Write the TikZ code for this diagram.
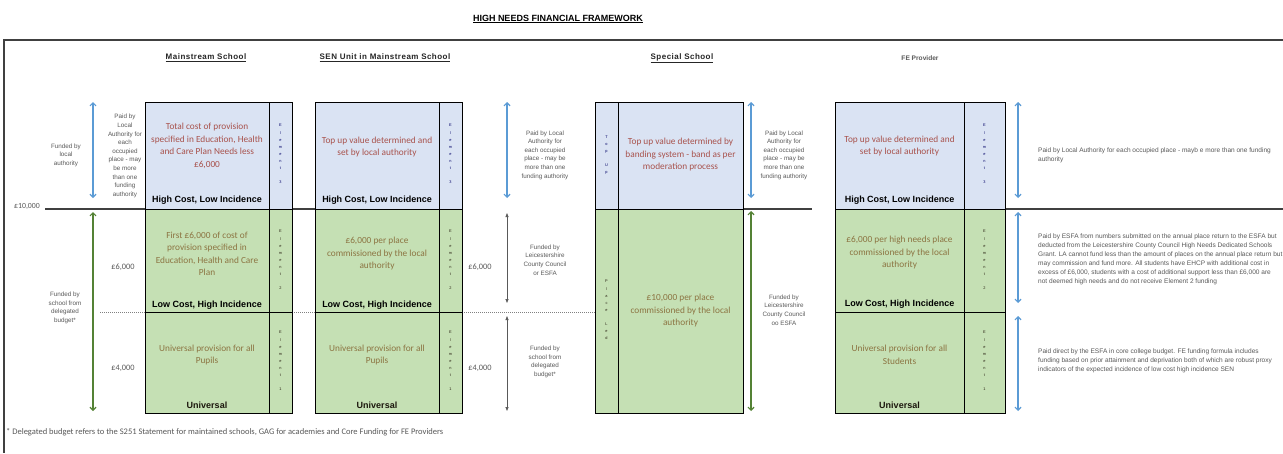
\documentclass[tikz,border=0pt]{standalone}
\usepackage{fontspec}
\setmainfont{Carlito}
\newfontfamily\arial{Liberation Sans}
\newfontfamily\arialsp[LetterSpace=6]{Liberation Sans}
\usetikzlibrary{arrows.meta}
\definecolor{bluefill}{HTML}{DAE3F3}
\definecolor{greenfill}{HTML}{C5E0B4}
\definecolor{bluearrow}{HTML}{5B9BD5}
\definecolor{greenarrow}{HTML}{548235}
\definecolor{graytext}{HTML}{595959}
\definecolor{redtext}{HTML}{A8524C}
\definecolor{olivetext}{HTML}{8C7442}
\definecolor{framegray}{HTML}{404040}
\tikzset{
  bbox/.style={draw=black, line width=1.2pt, fill=bluefill, inner sep=0pt, anchor=north west, minimum width=#1},
  gbox/.style={bbox=#1, fill=greenfill},
  btext/.style={text=redtext, font=\fontsize{9.3}{12.5}\selectfont, align=center, inner sep=0pt},
  gtext/.style={btext, text=olivetext},
  cat/.style={font=\arial\bfseries\fontsize{9}{10}\selectfont, inner sep=0pt},
  stack/.style={font=\arial\fontsize{3.9}{7.1}\selectfont, align=center, inner sep=0pt, text=#1},
  lab/.style={font=\arial\fontsize{6.3}{8.6}\selectfont, align=center, text=graytext, inner sep=0pt},
  money/.style={font=\fontsize{8.3}{9}\selectfont, text=graytext, inner sep=0pt},
  head/.style={font=\arialsp\bfseries\fontsize{8}{9}\selectfont, inner sep=0pt, text=black!85},
  rlab/.style={font=\arial\fontsize{6.55}{9}\selectfont, align=left, text=graytext, inner sep=0pt, anchor=north west},
  barrow/.style={bluearrow, line width=1.2pt, {Straight Barb[length=3pt,width=6pt]}-{Straight Barb[length=3pt,width=6pt]}},
  garrow/.style={barrow, draw=greenarrow},
  grarrow/.style={draw=graytext, line width=0.7pt, {Triangle[length=4pt,width=3pt]}-{Triangle[length=4pt,width=3pt]}},
  level/.style={draw=framegray, line width=1.3pt},
  dotline/.style={draw=gray, line width=0.6pt, dash pattern=on 1pt off 1pt},
}
\begin{document}
\begin{tikzpicture}[x=1pt,y=-1pt]
\useasboundingbox[fill=white] (0,0) rectangle (1283,453);
% frame
\coordinate (ftl) at (4,40);
\coordinate (ftr) at (1283,40);
\coordinate (fbl) at (4,453);
\draw[draw=framegray, line width=1.3pt] (ftr) -- (ftl) -- (fbl);
% title
\node[font=\arial\bfseries\fontsize{9}{10}\selectfont, inner sep=0pt] (title) at (558,19) {\underline{HIGH NEEDS FINANCIAL FRAMEWORK}};
% headers
\node[head] (h1) at (206,58) {\underline{Mainstream School}};
\node[head] (h2) at (385,58) {\underline{SEN Unit in Mainstream School}};
\node[head] (h3) at (682,58) {\underline{Special School}};
\node[head, font=\arial\bfseries\fontsize{6.6}{8}\selectfont, text=graytext] (h4) at (920,58) {FE Provider};
% dotted line
\coordinate (d1) at (100,312);
\coordinate (d2) at (595,312);
\draw[dotline] (d1) -- (d2);
% £10,000 level lines
\coordinate (l1a) at (45,209); \coordinate (l1b) at (462,209);
\coordinate (l2a) at (743,209); \coordinate (l2b) at (812,209);
\coordinate (l3a) at (1005,209); \coordinate (l3b) at (1283,209);
\draw[level] (l1a) -- (l1b);
\draw[level] (l2a) -- (l2b);
\draw[level] (l3a) -- (l3b);
\node[money, font=\fontsize{7.8}{9}\selectfont] (p10) at (27,206) {£10,000};

% ===== Mainstream
\node[bbox=124pt, minimum height=107pt] (ms3) at (145,102) {};
\node[bbox=23pt, minimum height=107pt] (ms3e) at (269,102) {};
\node[gbox=124pt, minimum height=103pt] (ms2) at (145,209) {};
\node[gbox=23pt, minimum height=103pt] (ms2e) at (269,209) {};
\node[gbox=124pt, minimum height=101pt] (ms1) at (145,312) {};
\node[gbox=23pt, minimum height=101pt] (ms1e) at (269,312) {};
\node[btext] (ms3t) at (207,146) {Total cost of provision\\specified in Education, Health\\and Care Plan Needs less\\£6,000};
\node[cat] (ms3c) at (207,200) {High Cost, Low Incidence};
\node[gtext] (ms2t) at (207,254) {First £6,000 of cost of\\provision specified in\\Education, Health and Care\\Plan};
\node[cat] (ms2c) at (207,305) {Low Cost, High Incidence};
\node[gtext] (ms1t) at (207,355) {Universal provision for all\\Pupils};
\node[cat, text=black!80!olivetext] (ms1c) at (207,405) {Universal};
\node[stack=blue!40!black] (ms3s) at (280.5,154) {E\\l\\e\\m\\e\\n\\t\\~\\3};
\node[stack=black!70!olivetext] (ms2s) at (280.5,260) {E\\l\\e\\m\\e\\n\\t\\~\\2};
\node[stack=black!70!olivetext] (ms1s) at (280.5,361) {E\\l\\e\\m\\e\\n\\t\\~\\1};
\coordinate (a1t) at (93,102); \coordinate (a1b) at (93,198);
\coordinate (a2t) at (93,212); \coordinate (a2b) at (93,411);
\draw[barrow] (a1t) -- (a1b);
\draw[garrow] (a2t) -- (a2b);
\node[lab] (msl1) at (66,155) {Funded by\\local\\authority};
\node[lab] (msl2) at (125,156) {Paid by\\Local\\Authority for\\each\\occupied\\place - may\\be more\\than one\\funding\\authority};
\node[lab] (msl3) at (65,308) {Funded by\\school from\\delegated\\budget*};
\node[money] (ms6) at (123,267) {£6,000};
\node[money] (ms4) at (123,368) {£4,000};

% ===== SEN unit
\node[bbox=124pt, minimum height=107pt] (su3) at (315,102) {};
\node[bbox=23pt, minimum height=107pt] (su3e) at (439,102) {};
\node[gbox=124pt, minimum height=103pt] (su2) at (315,209) {};
\node[gbox=23pt, minimum height=103pt] (su2e) at (439,209) {};
\node[gbox=124pt, minimum height=101pt] (su1) at (315,312) {};
\node[gbox=23pt, minimum height=101pt] (su1e) at (439,312) {};
\node[btext] (su3t) at (377,147) {Top up value determined and\\set by local authority};
\node[cat] (su3c) at (377,200) {High Cost, Low Incidence};
\node[gtext] (su2t) at (377,254) {£6,000 per place\\commissioned by the local\\authority};
\node[cat] (su2c) at (377,305) {Low Cost, High Incidence};
\node[gtext] (su1t) at (377,355) {Universal provision for all\\Pupils};
\node[cat, text=black!80!olivetext] (su1c) at (377,405) {Universal};
\node[stack=blue!40!black] (su3s) at (450.5,154) {E\\l\\e\\m\\e\\n\\t\\~\\3};
\node[stack=black!70!olivetext] (su2s) at (450.5,260) {E\\l\\e\\m\\e\\n\\t\\~\\2};
\node[stack=black!70!olivetext] (su1s) at (450.5,361) {E\\l\\e\\m\\e\\n\\t\\~\\1};
\node[money] (su6) at (480,267) {£6,000};
\node[money] (su4) at (480,368) {£4,000};
\coordinate (b1t) at (507,102); \coordinate (b1b) at (507,198);
\coordinate (b2t) at (507,213); \coordinate (b2b) at (507,303);
\coordinate (b3t) at (507,316); \coordinate (b3b) at (507,411);
\draw[barrow] (b1t) -- (b1b);
\draw[grarrow] (b2t) -- (b2b);
\draw[grarrow] (b3t) -- (b3b);
\node[lab] (sul1) at (545,155) {Paid by Local\\Authority for\\each occupied\\place - may be\\more than one\\funding authority};
\node[lab] (sul2) at (545,260) {Funded by\\Leicestershire\\County Council\\or ESFA};
\node[lab] (sul3) at (545,362) {Funded by\\school from\\delegated\\budget*};

% ===== Special school
\node[bbox=23pt, minimum height=107pt] (sp3s) at (595,102) {};
\node[bbox=125pt, minimum height=107pt] (sp3) at (618,102) {};
\node[gbox=23pt, minimum height=204pt] (sp2s) at (595,209) {};
\node[gbox=125pt, minimum height=204pt] (sp2) at (618,209) {};
\node[btext] (sp3t) at (680.5,155) {Top up value determined by\\banding system - band as per\\moderation process};
\node[gtext] (sp2t) at (680.5,311) {£10,000 per place\\commissioned by the local\\authority};
\node[stack=blue!40!black] (sptu) at (606.5,155) {T\\o\\p\\~\\U\\p};
\node[stack=black!70!olivetext] (sppl) at (606.5,310) {P\\l\\a\\c\\e\\~\\L\\e\\d};
\coordinate (c1t) at (751,102); \coordinate (c1b) at (751,198);
\coordinate (c2t) at (751,211); \coordinate (c2b) at (751,411);
\draw[barrow] (c1t) -- (c1b);
\draw[garrow] (c2t) -- (c2b);
\node[lab] (spl1) at (784,155) {Paid by Local\\Authority for\\each occupied\\place - may be\\more than one\\funding authority};
\node[lab] (spl2) at (784,310) {Funded by\\Leicestershire\\County Council\\oo ESFA};

% ===== FE provider
\node[bbox=129pt, minimum height=107pt] (fe3) at (835,102) {};
\node[bbox=41pt, minimum height=107pt] (fe3e) at (964,102) {};
\node[gbox=129pt, minimum height=103pt] (fe2) at (835,209) {};
\node[gbox=41pt, minimum height=103pt] (fe2e) at (964,209) {};
\node[gbox=129pt, minimum height=101pt] (fe1) at (835,312) {};
\node[gbox=41pt, minimum height=101pt] (fe1e) at (964,312) {};
\node[btext] (fe3t) at (899.5,146) {Top up value determined and\\set by local authority};
\node[cat] (fe3c) at (899.5,200) {High Cost, Low Incidence};
\node[gtext] (fe2t) at (899.5,253) {£6,000 per high needs place\\commissioned by the local\\authority};
\node[cat] (fe2c) at (899.5,304) {Low Cost, High Incidence};
\node[gtext] (fe1t) at (899.5,355) {Universal provision for all\\Students};
\node[cat, text=black!80!olivetext] (fe1c) at (899.5,405) {Universal};
\node[stack=blue!40!black] (fe3s) at (984.5,154) {E\\l\\e\\m\\e\\n\\t\\~\\3};
\node[stack=black!70!olivetext] (fe2s) at (984.5,260) {E\\l\\e\\m\\e\\n\\t\\~\\2};
\node[stack=black!70!olivetext] (fe1s) at (984.5,361) {E\\l\\e\\m\\e\\n\\t\\~\\1};
\coordinate (e1t) at (1018,102); \coordinate (e1b) at (1018,198);
\coordinate (e2t) at (1018,212); \coordinate (e2b) at (1018,303);
\coordinate (e3t) at (1018,316); \coordinate (e3b) at (1018,411);
\draw[barrow] (e1t) -- (e1b);
\draw[barrow] (e2t) -- (e2b);
\draw[barrow] (e3t) -- (e3b);
\node[rlab] (fel1) at (1038,148) {Paid by Local Authority for each occupied place - mayb e more than one funding\\authority};
\node[rlab] (fel2) at (1038,234) {Paid by ESFA from numbers submitted on the annual place return to the ESFA but\\deducted from the Leicestershire County Council High Needs Dedicated Schools\\Grant. LA cannot fund less than the amount of places on the annual place return but\\may commission and fund more. All students have EHCP with additional cost in\\excess of £6,000, students with a cost of additional support less than £6,000 are\\not deemed high needs and do not receive Element 2 funding};
\node[rlab] (fel3) at (1038,349) {Paid direct by the ESFA in core college budget. FE funding formula includes\\funding based on prior attainment and deprivation both of which are robust proxy\\indicators of the expected incidence of low cost high incidence SEN};

% footer
\node[font=\fontsize{8.5}{9}\selectfont, text=graytext, inner sep=0pt, anchor=west] (foot) at (6,432) {* Delegated budget refers to the S251 Statement for maintained schools, GAG for academies and Core Funding for FE Providers};
\end{tikzpicture}
\end{document}
